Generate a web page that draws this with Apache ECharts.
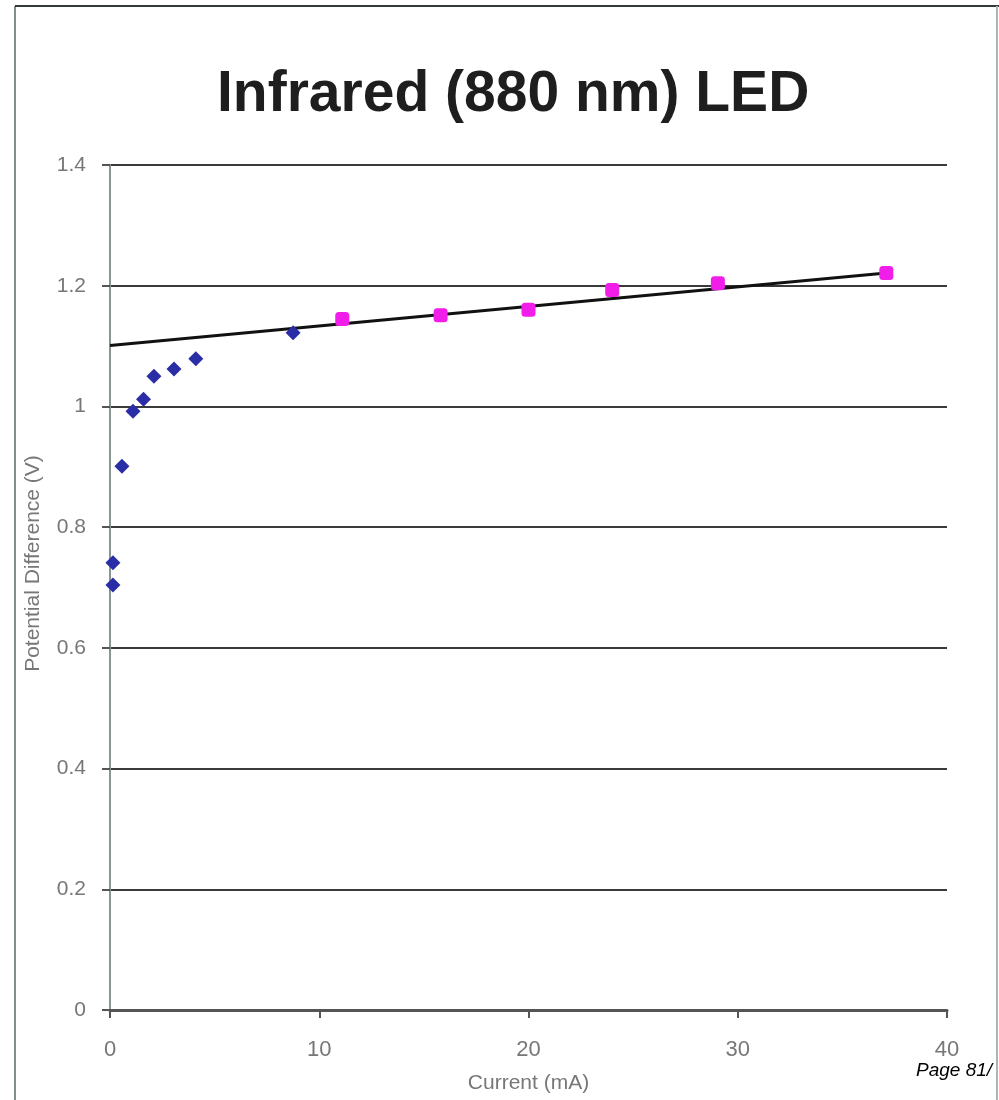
<!DOCTYPE html>
<html>
<head>
<meta charset="utf-8">
<script src="https://cdn.jsdelivr.net/npm/echarts@6/dist/echarts.min.js"></script>
<style>
html,body{margin:0;padding:0;background:#fff;}
#chart{width:999px;height:1100px;}
</style>
</head>
<body>
<div id="chart"></div>
<script>
const titleText = 'Infrared (880 nm) LED';
const xAxisName = 'Current (mA)';
const yAxisName = 'Potential Difference (V)';
const pageLabel = 'Page 81/';

const blueCurrent = [0.14, 0.14, 0.57, 1.1, 1.6, 2.1, 3.06, 4.1, 8.75];
const blueVoltage = [0.704, 0.741, 0.901, 0.992, 1.012, 1.050, 1.062, 1.079, 1.122];

const pinkCurrent = [11.1, 15.8, 20.0, 24.0, 29.05, 37.1];
const pinkVoltage = [1.145, 1.151, 1.160, 1.193, 1.204, 1.221];

const trendCurrent = [0, 37.1];
const trendVoltage = [1.101, 1.221];

const zip = (a, b) => a.map((v, i) => [v, b[i]]);

const chart = echarts.init(document.getElementById('chart'));
const narrow = '"Liberation Sans Narrow", "Arial Narrow", "Liberation Sans", sans-serif';

chart.setOption({
  backgroundColor: '#ffffff',
  animation: false,
  title: {
    text: titleText,
    left: 212,
    top: 62,
    textStyle: { fontFamily: narrow, fontSize: 57, fontWeight: 'bold', color: '#1e1e1e' }
  },
  grid: { left: 110, right: 52, top: 165, bottom: 90 },
  xAxis: {
    type: 'value', min: 0, max: 40, interval: 10,
    name: xAxisName, nameLocation: 'middle', nameGap: 63,
    nameTextStyle: { fontFamily: narrow, fontSize: 21, color: '#777' },
    axisLine: { show: true, lineStyle: { color: '#555', width: 3 } },
    axisTick: { show: true, length: 8, lineStyle: { color: '#555', width: 2 } },
    axisLabel: { fontFamily: narrow, fontSize: 22, color: '#777', margin: 29 },
    splitLine: { show: false }
  },
  yAxis: {
    type: 'value', min: 0, max: 1.4, interval: 0.2,
    name: yAxisName, nameLocation: 'middle', nameGap: 66,
    nameTextStyle: { fontFamily: narrow, fontSize: 21, color: '#777', padding: [0, 0, 0, 48] },
    axisLine: { show: true, onZero: false, lineStyle: { color: '#8a9490', width: 2 } },
    axisTick: { show: true, length: 8, lineStyle: { color: '#555', width: 2 } },
    axisLabel: { fontFamily: narrow, fontSize: 21, color: '#777', margin: 24,
      formatter: v => String(Math.round(v * 10) / 10) },
    splitLine: { show: true, lineStyle: { color: '#3a3a3a', width: 2 } }
  },
  series: [
    {
      type: 'line', data: zip(trendCurrent, trendVoltage), symbol: 'none',
      lineStyle: { color: '#111', width: 3 }, z: 3
    },
    {
      type: 'scatter', data: zip(blueCurrent, blueVoltage), symbol: 'diamond', symbolSize: 15,
      itemStyle: { color: '#2a2ea6', opacity: 1 }, z: 4
    },
    {
      type: 'scatter', data: zip(pinkCurrent, pinkVoltage), symbol: 'roundRect', symbolSize: 14,
      itemStyle: { color: '#f01ee8', opacity: 1 }, z: 4
    }
  ],
  graphic: [
    { type: 'line', shape: { x1: 15, y1: 6, x2: 15, y2: 1100 }, style: { stroke: '#7f8f8a', lineWidth: 2 } },
    { type: 'line', shape: { x1: 15, y1: 6, x2: 999, y2: 6 }, style: { stroke: '#333b38', lineWidth: 2 } },
    { type: 'text', left: 916, top: 1061, style: { text: pageLabel, font: 'italic 19px "Liberation Sans", Arial, sans-serif', fill: '#000' } },
    { type: 'line', shape: { x1: 997, y1: 6, x2: 997, y2: 1100 }, style: { stroke: '#a8b8b2', lineWidth: 2 } }
  ]
});
</script>
</body>
</html>
